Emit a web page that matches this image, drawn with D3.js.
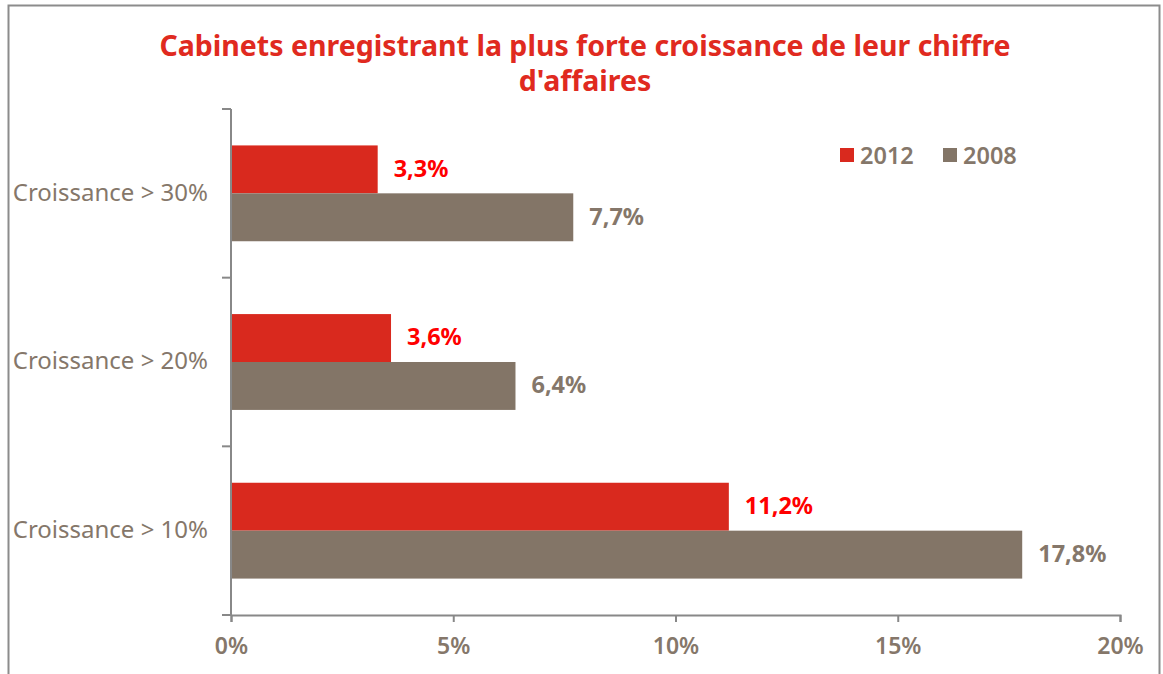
<!DOCTYPE html>
<html>
<head>
<meta charset="utf-8">
<script src="https://cdn.jsdelivr.net/npm/d3@7"></script>
<style>
  body { margin: 0; background: #fff; }
  text { font-family: "Noto Sans", "Open Sans", sans-serif; }
</style>
</head>
<body>
<script>
// Chart data
const categories = ["Croissance > 30%", "Croissance > 20%", "Croissance > 10%"];
const seriesNames = ["2012", "2008"];
const values2012 = [3.3, 3.6, 11.2];
const values2008 = [7.7, 6.4, 17.8];
const xTicks = [0, 5, 10, 15, 20];
const titleLines = ["Cabinets enregistrant la plus forte croissance de leur chiffre", "d'affaires"];

const width = 1163, height = 674;
const margin = { top: 109, bottom: 59, left: 231, right: 43 };

const barColors = { "2012": "#d9291e", "2008": "#837567" };
const labelColors = { "2012": "#ff0000", "2008": "#85776a" };
const grey = "#85776a";

const svg = d3.select("body")
    .append("svg")
    .attr("width", width)
    .attr("height", height);

// Outer frame
svg.append("rect")
   .attr("x", 8.5).attr("y", 5.5)
   .attr("width", 1151).attr("height", 720)
   .attr("fill", "none")
   .attr("stroke", "#8c8c8c")
   .attr("stroke-width", 2);

// Title
svg.append("text")
   .attr("text-anchor", "middle")
   .attr("fill", "#e02a20")
   .style("font-size", "28.5px")
   .style("font-weight", "bold")
   .selectAll("tspan")
   .data(titleLines)
   .enter()
   .append("tspan")
   .attr("x", 585)
   .attr("y", (d, i) => 56 + i * 35)
   .text(d => d);

// Scales
const x = d3.scaleLinear()
    .domain([0, 20])
    .range([margin.left, width - margin.right]);

const y0 = d3.scaleBand()
    .domain(categories)
    .range([margin.top, height - margin.bottom]);

const y1 = d3.scaleBand()
    .domain(seriesNames)
    .range([0, y0.bandwidth()])
    .paddingOuter(0.76);

// X axis
const xAxis = svg.append("g")
   .attr("transform", `translate(0,${height - margin.bottom})`)
   .call(d3.axisBottom(x).tickValues(xTicks).tickFormat(d => d + "%").tickSize(7).tickSizeOuter(7));
xAxis.selectAll("line, path").attr("stroke", "#888").attr("stroke-width", 2);
xAxis.selectAll("text")
   .attr("fill", grey)
   .attr("dy", "1.25em")
   .style("font-size", "23px")
   .style("font-weight", "600");

// Y axis with ticks between categories
const yAxis = svg.append("g")
   .attr("transform", `translate(${margin.left},0)`);
yAxis.append("line")
   .attr("x1", 0).attr("x2", 0)
   .attr("y1", margin.top).attr("y2", height - margin.bottom)
   .attr("stroke", "#888").attr("stroke-width", 2);
const boundaries = categories.map(c => y0(c)).concat([y0(categories[categories.length - 1]) + y0.bandwidth()]);
yAxis.selectAll("line.tick")
   .data(boundaries)
   .enter()
   .append("line")
   .attr("class", "tick")
   .attr("x1", -9).attr("x2", 0)
   .attr("y1", d => d).attr("y2", d => d)
   .attr("stroke", "#888").attr("stroke-width", 2);

// Category labels
svg.selectAll("text.cat")
   .data(categories)
   .enter()
   .append("text")
   .attr("class", "cat")
   .attr("x", 208)
   .attr("y", d => y0(d) + y0.bandwidth() / 2 + 1)
   .attr("text-anchor", "end")
   .attr("dominant-baseline", "middle")
   .attr("fill", grey)
   .style("font-size", "24px")
   .text(d => d);

// Bars
const rows = [];
categories.forEach((c, i) => {
    rows.push({ cat: c, series: "2012", value: values2012[i] });
    rows.push({ cat: c, series: "2008", value: values2008[i] });
});

svg.selectAll("rect.bar")
   .data(rows)
   .enter()
   .append("rect")
   .attr("class", "bar")
   .attr("x", x(0) + 1)
   .attr("y", d => y0(d.cat) + y1(d.series))
   .attr("width", d => x(d.value) - x(0) - 1)
   .attr("height", y1.bandwidth())
   .attr("fill", d => barColors[d.series]);

// Value labels
svg.selectAll("text.val")
   .data(rows)
   .enter()
   .append("text")
   .attr("class", "val")
   .attr("x", d => x(d.value) + 16)
   .attr("y", d => y0(d.cat) + y1(d.series) + y1.bandwidth() / 2 + 1)
   .attr("dominant-baseline", "middle")
   .attr("fill", d => labelColors[d.series])
   .style("font-size", "23.5px")
   .style("font-weight", "bold")
   .text(d => d.value.toFixed(1).replace(".", ",") + "%");

// Legend
const legendX = [840, 943];
seriesNames.forEach((s, i) => {
    svg.append("rect")
       .attr("x", legendX[i]).attr("y", 148)
       .attr("width", 14).attr("height", 14)
       .attr("fill", barColors[s]);
    svg.append("text")
       .attr("x", legendX[i] + 20).attr("y", 164)
       .attr("fill", grey)
       .style("font-size", "23.5px")
       .style("font-weight", "600")
       .text(s);
});
</script>
</body>
</html>
